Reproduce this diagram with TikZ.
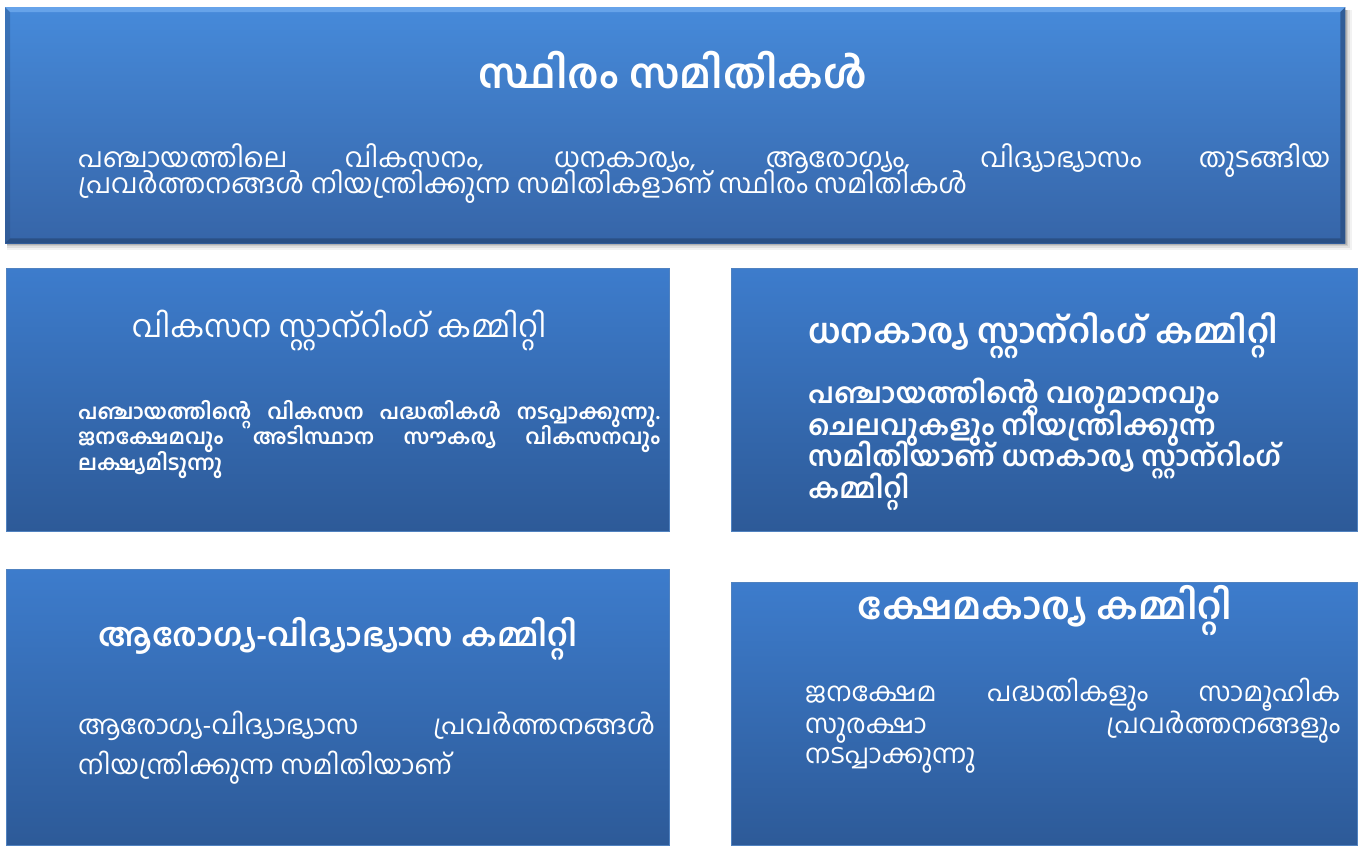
\documentclass[tikz,border=0pt]{standalone}
\usepackage{fontspec}
\newfontfamily\ml[Script=Malayalam]{Hind Kochi}
\usetikzlibrary{calc}
\definecolor{topTop}{RGB}{70,138,218}
\definecolor{topBot}{RGB}{54,101,168}
\definecolor{boxTop}{RGB}{61,124,204}
\definecolor{boxBot}{RGB}{45,90,152}
\definecolor{boxEdge}{RGB}{80,130,192}
\definecolor{bevLight}{RGB}{110,170,238}
\definecolor{bevDark}{RGB}{40,75,125}
\tikzset{
  panel/.style={draw=boxEdge, line width=1pt, top color=boxTop, bottom color=boxBot, inner sep=0pt, anchor=north west},
  txt/.style={text=white, inner sep=0pt, font=\ml},
}
\newcommand{\jl}[2]{\makebox[#1][s]{#2}}
\begin{document}
\begin{tikzpicture}[x=1pt,y=-1pt]
\useasboundingbox (0,0) rectangle (1361,852);
\fill[white] (0,0) rectangle (1361,852);
% shadow of top box
\foreach \d/\o in {7/0.05,5/0.07,3/0.09,1.5/0.12}{
  \fill[black, opacity=\o] (7,10) rectangle (1345+\d,243+\d);
}
% top box
\node[draw=none, top color=topTop, bottom color=topBot, minimum width=1340pt, minimum height=236pt, inner sep=0pt, anchor=north west] (T) at (5,7) {};
\fill[bevLight, opacity=0.8] (T.north west) -- (T.north east) -- ($(T.north east)+(-5,5)$) -- ($(T.north west)+(5,5)$) -- cycle;
\fill[bevDark, opacity=0.35] (T.north west) -- ($(T.north west)+(5,5)$) -- ($(T.south west)+(5,-5)$) -- (T.south west) -- cycle;
\fill[bevDark, opacity=0.7] (T.north east) -- ($(T.north east)+(-5,5)$) -- ($(T.south east)+(-5,-5)$) -- (T.south east) -- cycle;
\fill[bevDark, opacity=0.8] (T.south west) -- ($(T.south west)+(5,-5)$) -- ($(T.south east)+(-5,-5)$) -- (T.south east) -- cycle;
\node[txt, font=\ml\bfseries\fontsize{41}{44}\selectfont, anchor=base] (Ttitle) at (673,88) {സ്ഥിരം സമിതികൾ};
\node[txt, font=\ml\fontsize{27}{28}\selectfont, anchor=base west] (Tl1) at (78,167) {\jl{1252pt}{പഞ്ചായത്തിലെ വികസനം, ധനകാര്യം, ആരോഗ്യം, വിദ്യാഭ്യാസം തുടങ്ങിയ}};
\node[txt, font=\ml\fontsize{27}{28}\selectfont, anchor=base west] (Tl2) at (78,193) {പ്രവർത്തനങ്ങൾ നിയന്ത്രിക്കുന്ന സമിതികളാണ് സ്ഥിരം സമിതികൾ};

% box A
\node[panel, minimum width=663pt, minimum height=263pt] (A) at (6,268) {};
\node[txt, font=\ml\fontsize{31}{34}\selectfont, anchor=base] (Atitle) at (339,337) {വികസന സ്റ്റാന്^^^^200cറിംഗ് കമ്മിറ്റി};
\node[txt, font=\ml\bfseries\fontsize{21}{24}\selectfont, anchor=base west] (Al1) at (78,419) {\jl{582pt}{പഞ്ചായത്തിന്റെ വികസന പദ്ധതികൾ നടപ്പാക്കുന്നു.}};
\node[txt, font=\ml\bfseries\fontsize{21}{24}\selectfont, anchor=base west] (Al2) at (78,444) {\jl{582pt}{ജനക്ഷേമവും അടിസ്ഥാന സൗകര്യ വികസനവും}};
\node[txt, font=\ml\bfseries\fontsize{21}{24}\selectfont, anchor=base west] (Al3) at (78,470) {ലക്ഷ്യമിടുന്നു};

% box B
\node[panel, minimum width=626pt, minimum height=263pt] (B) at (731,268) {};
\node[txt, font=\ml\bfseries\fontsize{34}{36}\selectfont, anchor=base west] (Btitle) at (808,343) {ധനകാര്യ സ്റ്റാന്^^^^200cറിംഗ് കമ്മിറ്റി};
\node[txt, font=\ml\bfseries\fontsize{28}{30}\selectfont, anchor=base west] (Bl1) at (808,403) {പഞ്ചായത്തിന്റെ വരുമാനവും};
\node[txt, font=\ml\bfseries\fontsize{28}{30}\selectfont, anchor=base west] (Bl2) at (808,435) {ചെലവുകളും നിയന്ത്രിക്കുന്ന};
\node[txt, font=\ml\bfseries\fontsize{28}{30}\selectfont, anchor=base west] (Bl3) at (808,466) {സമിതിയാണ് ധനകാര്യ സ്റ്റാന്^^^^200cറിംഗ്};
\node[txt, font=\ml\bfseries\fontsize{28}{30}\selectfont, anchor=base west] (Bl4) at (808,498) {കമ്മിറ്റി};

% box C
\node[panel, minimum width=663pt, minimum height=276pt] (C) at (6,569) {};
\node[txt, font=\ml\bfseries\fontsize{32}{36}\selectfont, anchor=base] (Ctitle) at (338,646) {ആരോഗ്യ-വിദ്യാഭ്യാസ കമ്മിറ്റി};
\node[txt, font=\ml\fontsize{26.5}{28}\selectfont, anchor=base west] (Cl1) at (78,734) {\jl{577pt}{ആരോഗ്യ-വിദ്യാഭ്യാസ പ്രവർത്തനങ്ങൾ}};
\node[txt, font=\ml\fontsize{26.5}{28}\selectfont, anchor=base west] (Cl2) at (78,774) {നിയന്ത്രിക്കുന്ന സമിതിയാണ്};

% box D
\node[panel, minimum width=626pt, minimum height=263pt] (D) at (731,582) {};
\node[txt, font=\ml\bfseries\fontsize{37.5}{40}\selectfont, anchor=base] (Dtitle) at (1045,619) {ക്ഷേമകാര്യ കമ്മിറ്റി};
\node[txt, font=\ml\fontsize{26.5}{28}\selectfont, anchor=base west] (Dl1) at (805,701) {\jl{535pt}{ജനക്ഷേമ പദ്ധതികളും സാമൂഹിക}};
\node[txt, font=\ml\fontsize{26.5}{28}\selectfont, anchor=base west] (Dl2) at (805,733) {\jl{535pt}{സുരക്ഷാ പ്രവർത്തനങ്ങളും}};
\node[txt, font=\ml\fontsize{26.5}{28}\selectfont, anchor=base west] (Dl3) at (805,763) {നടപ്പാക്കുന്നു};
\end{tikzpicture}
\end{document}
